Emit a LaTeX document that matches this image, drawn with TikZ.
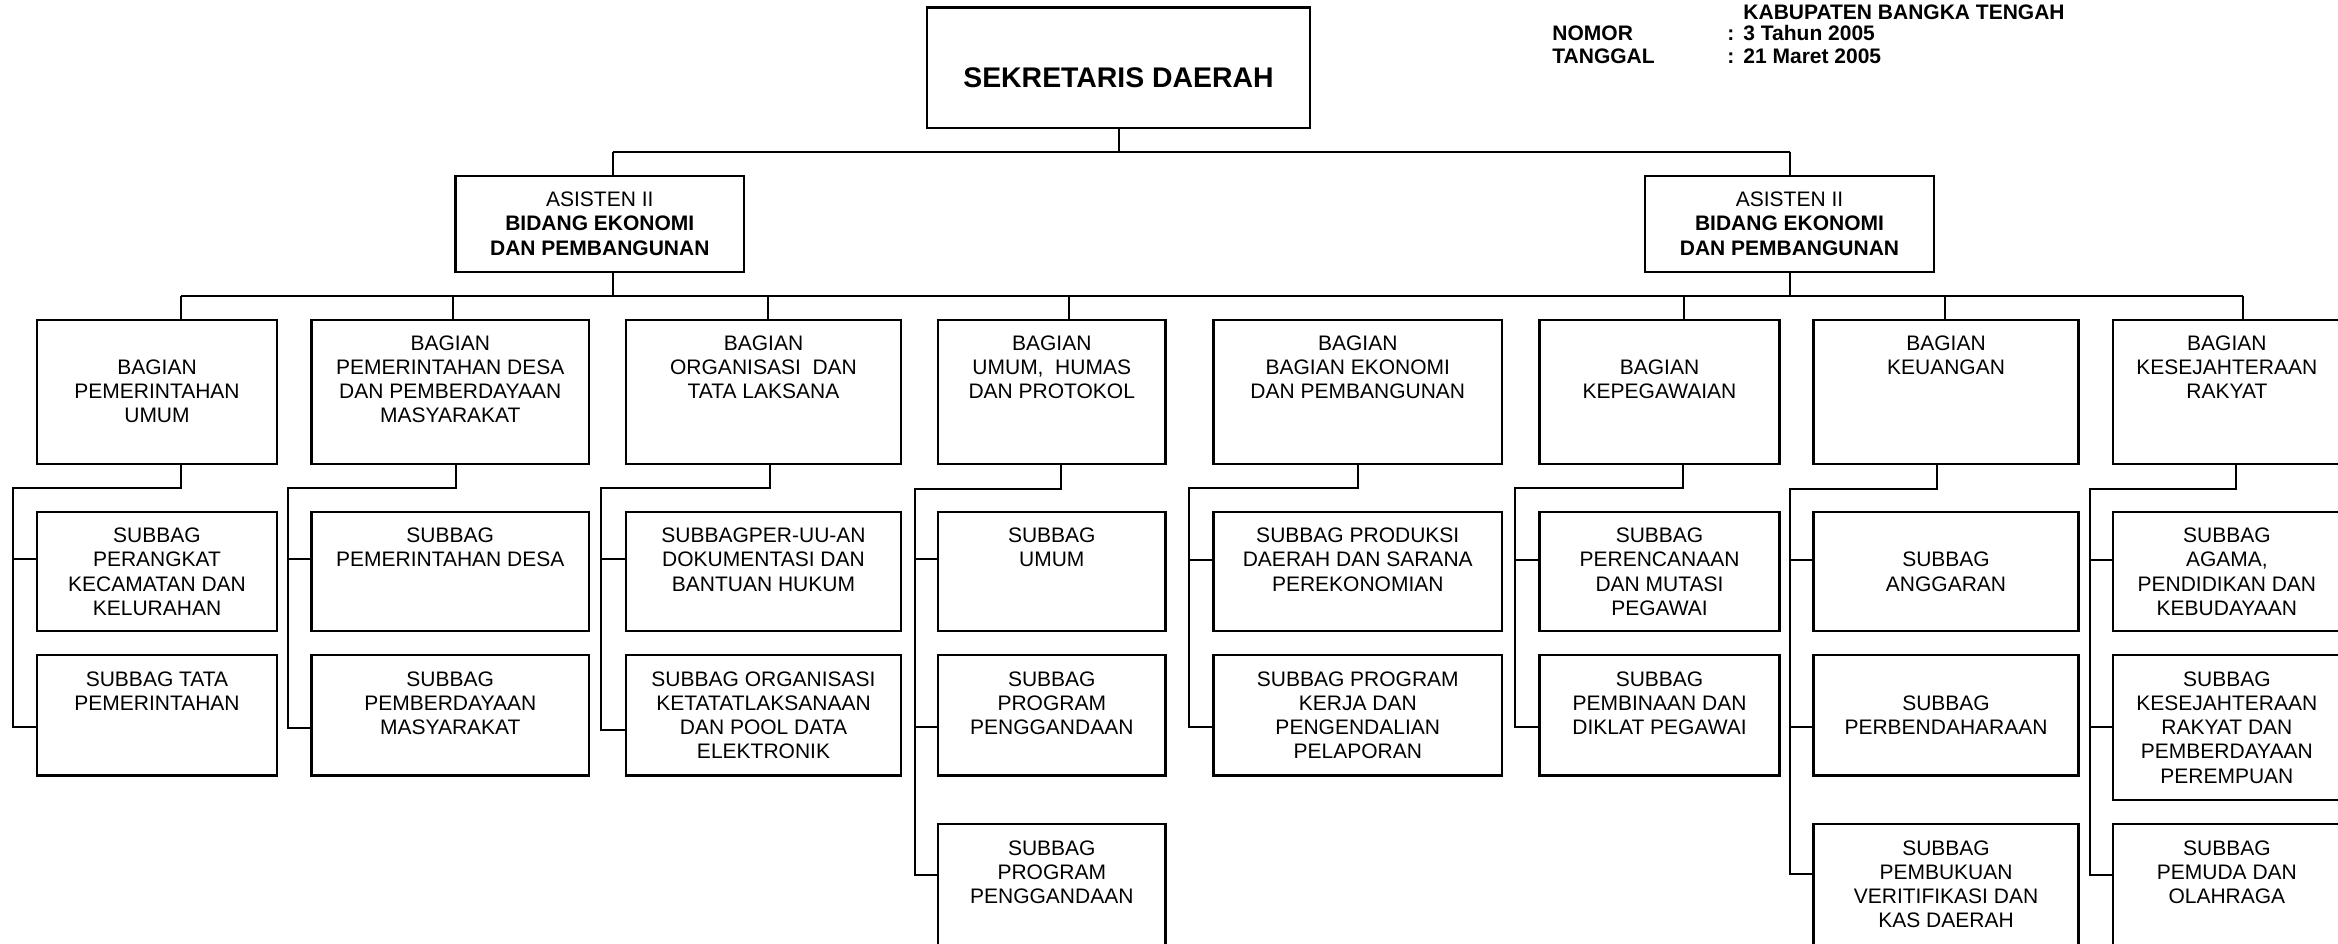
\documentclass[tikz,border=0pt]{standalone}
\usepackage{fontspec}
\setmainfont{Liberation Sans}
\usetikzlibrary{fit}
\tikzset{
  box/.style={draw, line width=1.2pt, inner sep=0pt, rectangle},
  conn/.style={draw, line width=1pt},
  lbl/.style={align=center, inner sep=0pt, font=\fontsize{10.5}{12.1}\selectfont},
  hdr/.style={inner sep=0pt, font=\fontsize{10.5}{12}\selectfont\bfseries},
}
% box: name, x1, y1, x2, y2, baseline of first text line, text
\newcommand{\orgbox}[7]{%
  \node[box, fit={(#2,#3) (#4,#5)}] (#1) {};
  \node[lbl, anchor=north] (#1-t) at ({(#2+#4)/2},{#6-15}) {#7};
}
\begin{document}
\begin{tikzpicture}[x=0.5pt, y=-0.5pt]
\useasboundingbox (0,0) rectangle (2338,943);
\clip (0,0) rectangle (2338,943);

% header
\node[hdr, anchor=base west] (kab) at (1743,19) {KABUPATEN BANGKA TENGAH};
\node[hdr, anchor=base west] (nom) at (1552,40.7) {NOMOR};
\node[hdr, anchor=base west] (nomc) at (1727,40.7) {:};
\node[hdr, anchor=base west] (nomv) at (1743,40.7) {3 Tahun 2005};
\node[hdr, anchor=base west] (tgl) at (1552,63.3) {TANGGAL};
\node[hdr, anchor=base west] (tglc) at (1727,63.3) {:};
\node[hdr, anchor=base west] (tglv) at (1743,63.3) {21 Maret 2005};

% top level
\node[box, fit={(927,7.5) (1310,127.7)}] (sek) {};
\node[inner sep=0pt, anchor=base, font=\fontsize{14.2}{16}\selectfont\bfseries] (sek-t) at (1118.5,87) {SEKRETARIS DAERAH};

\orgbox{aL}{455.6}{176}{744}{271.7}{206.7}{ASISTEN II\\\textbf{BIDANG EKONOMI}\\\textbf{DAN PEMBANGUNAN}}
\orgbox{aR}{1645}{176}{1934}{271.7}{206.7}{ASISTEN II\\\textbf{BIDANG EKONOMI}\\\textbf{DAN PEMBANGUNAN}}

% bagian
\orgbox{b1}{37}{320}{277}{464}{374}{BAGIAN\\PEMERINTAHAN\\UMUM}
\orgbox{b2}{311.5}{320}{589}{464}{350}{BAGIAN\\PEMERINTAHAN DESA\\DAN PEMBERDAYAAN\\MASYARAKAT}
\orgbox{b3}{626}{320}{901}{464}{350}{BAGIAN\\ORGANISASI\ \ DAN\\TATA LAKSANA}
\orgbox{b4}{938}{320}{1165.5}{464}{350}{BAGIAN\\UMUM,\ \ HUMAS\\DAN PROTOKOL}
\orgbox{b5}{1213.5}{320}{1502}{464}{350}{BAGIAN\\BAGIAN EKONOMI\\DAN PEMBANGUNAN}
\orgbox{b6}{1539.5}{320}{1779.5}{464}{374}{BAGIAN\\KEPEGAWAIAN}
\orgbox{b7}{1813.5}{320}{2078.5}{464}{350}{BAGIAN\\KEUANGAN}
\orgbox{b8}{2112.7}{320}{2341}{464}{350}{BAGIAN\\KESEJAHTERAAN\\RAKYAT}

% subbagian, first row
\orgbox{s11}{37}{512}{277}{631}{542.7}{SUBBAG\\PERANGKAT\\KECAMATAN DAN\\KELURAHAN}
\orgbox{s21}{311.5}{512}{589}{631}{542.7}{SUBBAG\\PEMERINTAHAN DESA}
\orgbox{s31}{626}{512}{901}{631}{542.7}{SUBBAGPER-UU-AN\\DOKUMENTASI DAN\\BANTUAN HUKUM}
\orgbox{s41}{938}{512}{1165.5}{631}{542.7}{SUBBAG\\UMUM}
\orgbox{s51}{1213.5}{512}{1502}{631}{542.7}{SUBBAG PRODUKSI\\DAERAH DAN SARANA\\PEREKONOMIAN}
\orgbox{s61}{1539.5}{512}{1779.5}{631}{542.7}{SUBBAG\\PERENCANAAN\\DAN MUTASI\\PEGAWAI}
\orgbox{s71}{1813.5}{512}{2078.5}{631}{566.9}{SUBBAG\\ANGGARAN}
\orgbox{s81}{2112.7}{512}{2341}{631}{542.7}{SUBBAG\\AGAMA,\\PENDIDIKAN DAN\\KEBUDAYAAN}

% subbagian, second row
\orgbox{s12}{37}{655}{277}{775.5}{686.3}{SUBBAG TATA\\PEMERINTAHAN}
\orgbox{s22}{311.5}{655}{589}{775.5}{686.3}{SUBBAG\\PEMBERDAYAAN\\MASYARAKAT}
\orgbox{s32}{626}{655}{901}{775.5}{686.3}{SUBBAG ORGANISASI\\KETATATLAKSANAAN\\DAN POOL DATA\\ELEKTRONIK}
\orgbox{s42}{938}{655}{1165.5}{775.5}{686.3}{SUBBAG\\PROGRAM\\PENGGANDAAN}
\orgbox{s52}{1213.5}{655}{1502}{775.5}{686.3}{SUBBAG PROGRAM\\KERJA DAN\\PENGENDALIAN\\PELAPORAN}
\orgbox{s62}{1539.5}{655}{1779.5}{775.5}{686.3}{SUBBAG\\PEMBINAAN DAN\\DIKLAT PEGAWAI}
\orgbox{s72}{1813.5}{655}{2078.5}{775.5}{710.5}{SUBBAG\\PERBENDAHARAAN}
\orgbox{s82}{2112.7}{655}{2341}{800}{686.3}{SUBBAG\\KESEJAHTERAAN\\RAKYAT DAN\\PEMBERDAYAAN\\PEREMPUAN}

% subbagian, third row
\orgbox{s43}{938}{824}{1165.5}{960}{855}{SUBBAG\\PROGRAM\\PENGGANDAAN}
\orgbox{s73}{1813.5}{824}{2078.5}{960}{855}{SUBBAG\\PEMBUKUAN\\VERITIFIKASI DAN\\KAS DAERAH}
\orgbox{s83}{2112.7}{824}{2341}{960}{855}{SUBBAG\\PEMUDA DAN\\OLAHRAGA}

% sekretaris to asisten
\draw[conn] (sek.south) -- (sek.south |- 0,151.7);
\draw[conn] (612.7,151.7) -- (1790,151.7);
\draw[conn] (612.7,151.7) -- (612.7,0 |- aL.north);
\draw[conn] (1790,151.7) -- (1790,0 |- aR.north);

% asisten to bagian
\draw[conn] (612.7,0 |- aL.south) -- (612.7,295.7);
\draw[conn] (1790,0 |- aR.south) -- (1790,295.7);
\draw[conn] (181,295.7) -- (2243.4,295.7);
\draw[conn] (181,295.7) -- (181,0 |- b1.north);
\draw[conn] (453,295.7) -- (453,0 |- b2.north);
\draw[conn] (767.6,295.7) -- (767.6,0 |- b3.north);
\draw[conn] (1069,295.7) -- (1069,0 |- b4.north);
\draw[conn] (1683.6,295.7) -- (1683.6,0 |- b6.north);
\draw[conn] (1944.7,295.7) -- (1944.7,0 |- b7.north);
\draw[conn] (2243.4,295.7) -- (2243.4,0 |- b8.north);

% bagian to subbagian
\draw[conn] (181,0 |- b1.south) -- (181,488) -- (13,488) -- (13,726.7) -- (s12.west |- 0,726.7);
\draw[conn] (13,558.7) -- (s11.west |- 0,558.7);

\draw[conn] (455.5,0 |- b2.south) -- (455.5,488) -- (287.6,488) -- (287.6,727.7) -- (s22.west |- 0,727.7);
\draw[conn] (287.6,559) -- (s21.west |- 0,559);

\draw[conn] (770,0 |- b3.south) -- (770,488) -- (600.5,488) -- (600.5,730) -- (s32.west |- 0,730);
\draw[conn] (600.5,559) -- (s31.west |- 0,559);

\draw[conn] (1061,0 |- b4.south) -- (1061,489.3) -- (915,489.3) -- (915,875) -- (s43.west |- 0,875);
\draw[conn] (915,559) -- (s41.west |- 0,559);
\draw[conn] (915,727) -- (s42.west |- 0,727);

\draw[conn] (1357.6,0 |- b5.south) -- (1357.6,488) -- (1189.4,488) -- (1189.4,727) -- (s52.west |- 0,727);
\draw[conn] (1189.4,559.5) -- (s51.west |- 0,559.5);

\draw[conn] (1683.4,0 |- b6.south) -- (1683.4,488) -- (1514.5,488) -- (1514.5,727) -- (s62.west |- 0,727);
\draw[conn] (1514.5,559.5) -- (s61.west |- 0,559.5);

\draw[conn] (1936.5,0 |- b7.south) -- (1936.5,489.4) -- (1790,489.4) -- (1790,874) -- (s73.west |- 0,874);
\draw[conn] (1790,559.5) -- (s71.west |- 0,559.5);
\draw[conn] (1790,727) -- (s72.west |- 0,727);

\draw[conn] (2235.8,0 |- b8.south) -- (2235.8,489.4) -- (2089.5,489.4) -- (2089.5,875) -- (s83.west |- 0,875);
\draw[conn] (2089.5,559.5) -- (s81.west |- 0,559.5);
\draw[conn] (2089.5,727) -- (s82.west |- 0,727);
\end{tikzpicture}
\end{document}
